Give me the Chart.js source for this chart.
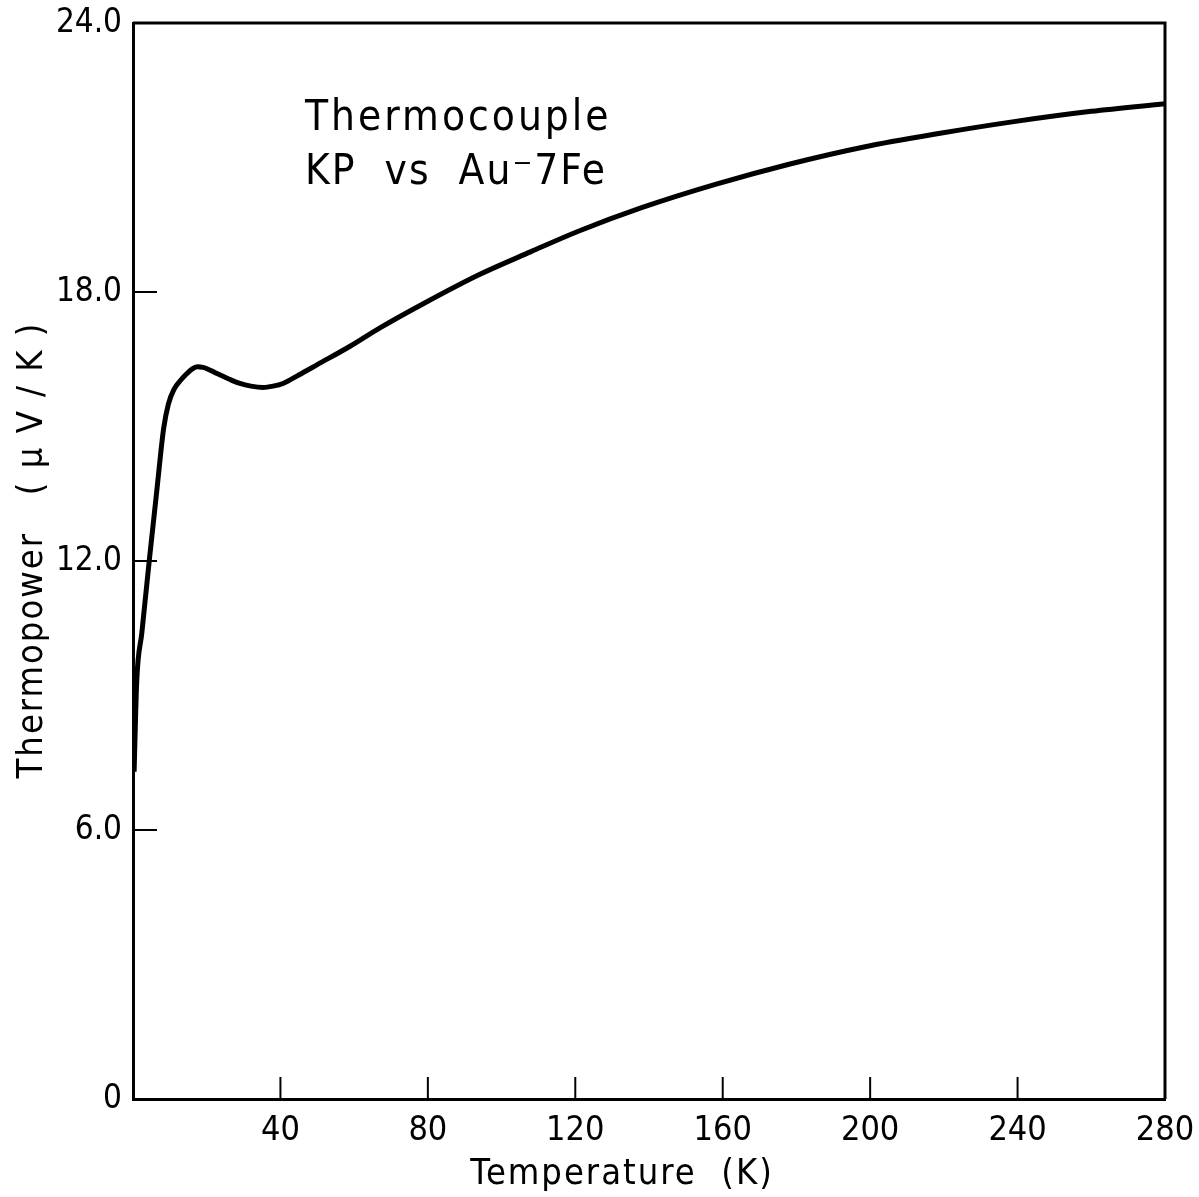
<!DOCTYPE html>
<html lang="en">
<head>
  <meta charset="UTF-8" />
  <title>Thermocouple KP vs Au-7Fe</title>
  <script src="https://cdn.jsdelivr.net/npm/chart.js"></script>
  <style>
    body { margin: 0; background: #fff }
    #wrap { width: 1199px; height: 1197px; position: relative }
  </style>
</head>
<body>
  <div id="wrap"><canvas id="tp"></canvas></div>

  <script>
    // curve (K, uV/K)
    const temperature = [0.3, 1.0, 2.4, 4.4, 6.5, 8.3, 9.6, 11.2, 12.8, 14.5, 16, 17.4, 19, 20.8, 22.8, 26, 29, 32, 35.3, 38, 40.7, 45, 50, 58.9, 67, 79, 94, 108, 121, 138, 158, 178, 198, 219, 239, 260, 280];
    const thermopower = [7.3, 9.3, 10.4, 12.0, 13.6, 14.95, 15.5, 15.84, 16.02, 16.17, 16.28, 16.33, 16.32, 16.26, 16.18, 16.06, 15.96, 15.9, 15.87, 15.9, 15.96, 16.15, 16.38, 16.79, 17.2, 17.75, 18.39, 18.9, 19.36, 19.88, 20.4, 20.85, 21.23, 21.54, 21.8, 22.03, 22.2];

    const xTicks = [0, 40, 80, 120, 160, 200, 240, 280];
    const yTicks = [0, 6, 12, 18, 24];

    const FONT = "'DejaVu Sans Condensed', 'DejaVu Sans', sans-serif";

    // inward tick marks, frame and hand-lettered texts
    const frame = {
      id: 'frame',
      afterDraw(chart) {
        const { ctx, chartArea: a, scales } = chart;
        ctx.save();
        ctx.strokeStyle = '#000';
        ctx.lineWidth = 3;
        ctx.beginPath();
        ctx.moveTo(a.left, a.top); ctx.lineTo(a.right, a.top); ctx.lineTo(a.right, a.bottom);
        ctx.stroke();

        ctx.lineWidth = 2;
        for (const v of xTicks) {
          if (v === 0 || v === 280) continue;
          const px = scales.x.getPixelForValue(v);
          ctx.beginPath(); ctx.moveTo(px, a.bottom); ctx.lineTo(px, a.bottom - 22); ctx.stroke();
        }
        for (const v of yTicks) {
          if (v === 0 || v === 24) continue;
          const py = scales.y.getPixelForValue(v);
          ctx.beginPath(); ctx.moveTo(a.left, py); ctx.lineTo(a.left + 24, py); ctx.stroke();
        }

        ctx.fillStyle = '#000';
        ctx.textBaseline = 'alphabetic';

        // note in the upper left
        ctx.font = '42px ' + FONT;
        ctx.textAlign = 'left';
        ctx.letterSpacing = '3px';
        ctx.fillText('Thermocouple', 305, 130);
        ctx.letterSpacing = '2px';
        ctx.fillText('KP  vs  Au\u207B7Fe', 305, 184);

        // axis titles
        ctx.font = '36px ' + FONT;
        ctx.textAlign = 'center';
        ctx.fillText('Temperature  (K)', 622, 1184);

        ctx.translate(42, 550);
        ctx.rotate(-Math.PI / 2);
        ctx.fillText('Thermopower   ( \u03BC V / K )', 0, 0);
        ctx.restore();
      }
    };

    new Chart(document.getElementById('tp'), {
      type: 'line',
      data: {
        datasets: [{
          data: temperature.map((t, i) => ({ x: t, y: thermopower[i] })),
          borderColor: '#000',
          borderWidth: 5,
          pointRadius: 0,
          fill: false,
          cubicInterpolationMode: 'monotone'
        }]
      },
      options: {
        responsive: true,
        maintainAspectRatio: false,
        animation: false,
        layout: { padding: { top: 23, right: 34, left: 0, bottom: 0 } },
        plugins: { legend: { display: false }, tooltip: { enabled: false } },
        scales: {
          x: {
            type: 'linear',
            min: 0, max: 280,
            afterBuildTicks: s => { s.ticks = xTicks.map(v => ({ value: v })); },
            afterFit: s => { s.height = 98; s.paddingLeft = 0; s.paddingRight = 0; },
            grid: { display: false, drawTicks: false },
            border: { display: true, color: '#000', width: 3 },
            ticks: {
              color: '#000', padding: 12, maxRotation: 0,
              font: { family: FONT, size: 34 },
              callback: v => v === 0 ? '' : String(v)
            }
          },
          y: {
            min: 0, max: 24,
            afterBuildTicks: s => { s.ticks = yTicks.map(v => ({ value: v })); },
            afterFit: s => { s.width = 133; s.paddingTop = 0; s.paddingBottom = 0; },
            grid: { display: false, drawTicks: false },
            border: { display: true, color: '#000', width: 3 },
            ticks: {
              color: '#000', padding: 11,
              font: { family: FONT, size: 33 },
              callback: v => v === 0 ? '0' : v.toFixed(1)
            }
          }
        }
      },
      plugins: [frame]
    });
  </script>
</body>
</html>
